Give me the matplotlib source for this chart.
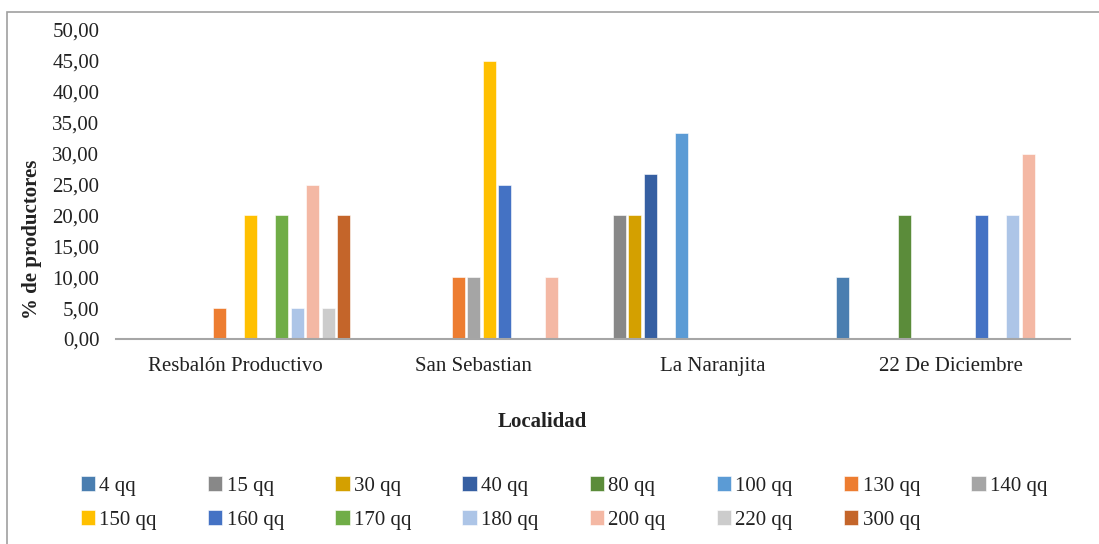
import matplotlib.pyplot as plt
from matplotlib.patches import Rectangle
from matplotlib.ticker import FuncFormatter
import numpy as np

plt.rcParams['font.family'] = ['Liberation Serif', 'DejaVu Serif']

# Localidades y series (producción en quintales)
localidades = ['Resbalón Productivo', 'San Sebastian', 'La Naranjita', '22 De Diciembre']
series = ['4 qq', '15 qq', '30 qq', '40 qq', '80 qq', '100 qq', '130 qq', '140 qq',
          '150 qq', '160 qq', '170 qq', '180 qq', '200 qq', '220 qq', '300 qq']

# % de productores por serie, en el orden de las localidades
valores = {
    '4 qq':   [0, 0, 0, 10],
    '15 qq':  [0, 0, 20, 0],
    '30 qq':  [0, 0, 20, 0],
    '40 qq':  [0, 0, 26.67, 0],
    '80 qq':  [0, 0, 0, 20],
    '100 qq': [0, 0, 33.33, 0],
    '130 qq': [5, 10, 0, 0],
    '140 qq': [0, 10, 0, 0],
    '150 qq': [20, 45, 0, 0],
    '160 qq': [0, 25, 0, 20],
    '170 qq': [20, 0, 0, 0],
    '180 qq': [5, 0, 0, 20],
    '200 qq': [25, 10, 0, 30],
    '220 qq': [5, 0, 0, 0],
    '300 qq': [20, 0, 0, 0],
}

colores = ['#4A7EB0', '#888888', '#D4A000', '#365FA2', '#5B8C3A', '#5B9BD5', '#ED7D31',
           '#A5A5A5', '#FFC000', '#4472C4', '#70AD47', '#ADC5E7', '#F4B8A4', '#CCCCCC',
           '#C4652A']

fs = 15

fig = plt.figure(figsize=(10.99, 5.44), dpi=100)
ax = fig.add_axes([116 / 1099, 1 - 339 / 544, 954 / 1099, 309 / 544])

x = np.arange(len(localidades))
paso = 0.065
ancho = 0.053
for i, (s, c) in enumerate(zip(series, colores)):
    ax.bar(x + (i - 7) * paso, valores[s], width=ancho, color=c,
           edgecolor='white', linewidth=0.4, label=s, zorder=2)

ax.set_xlim(-0.5, len(localidades) - 0.5)
ax.set_ylim(0, 50)
ax.set_yticks(np.arange(0, 51, 5))
ax.yaxis.set_major_formatter(FuncFormatter(lambda v, p: f'{v:.2f}'.replace('.', ',')))
ax.set_xticks(x)
ax.set_xticklabels(localidades)
ax.tick_params(axis='y', length=0, pad=12, labelsize=fs, colors='#222222')
ax.tick_params(axis='x', length=0, pad=13, labelsize=fs, colors='#222222')

for lado in ['top', 'right', 'left']:
    ax.spines[lado].set_visible(False)
ax.spines['bottom'].set_color('#A6A6A6')
ax.spines['bottom'].set_linewidth(1.5)

ax.set_ylabel('% de productores', fontsize=fs, fontweight='bold', color='#222222')
ax.yaxis.set_label_coords(-0.078, 0.324)
fig.text(542 / 1099, 1 - 422 / 544, 'Localidad', ha='center', va='center',
         fontsize=fs, fontweight='bold', color='#222222')

# leyenda en dos filas, llenada por filas
handles, labels = ax.get_legend_handles_labels()
orden = []
for j in range(8):
    orden.append(j)
    if j + 8 < len(handles):
        orden.append(j + 8)
fig.legend([handles[k] for k in orden], [labels[k] for k in orden], ncol=8, loc='center',
           bbox_to_anchor=(564 / 1099, 1 - 503 / 544), frameon=False, fontsize=fs,
           handlelength=0.7, handleheight=0.7, handletextpad=0.2, columnspacing=2.45,
           labelspacing=0.68, labelcolor='#222222')

# marco del gráfico
fig.patches.append(Rectangle((7 / 1099, -0.05), 1.1, 1 - 12 / 544 + 0.05,
                             transform=fig.transFigure, fill=False,
                             edgecolor='#A0A0A0', linewidth=1.2))

fig.savefig('out.png', dpi=100)
